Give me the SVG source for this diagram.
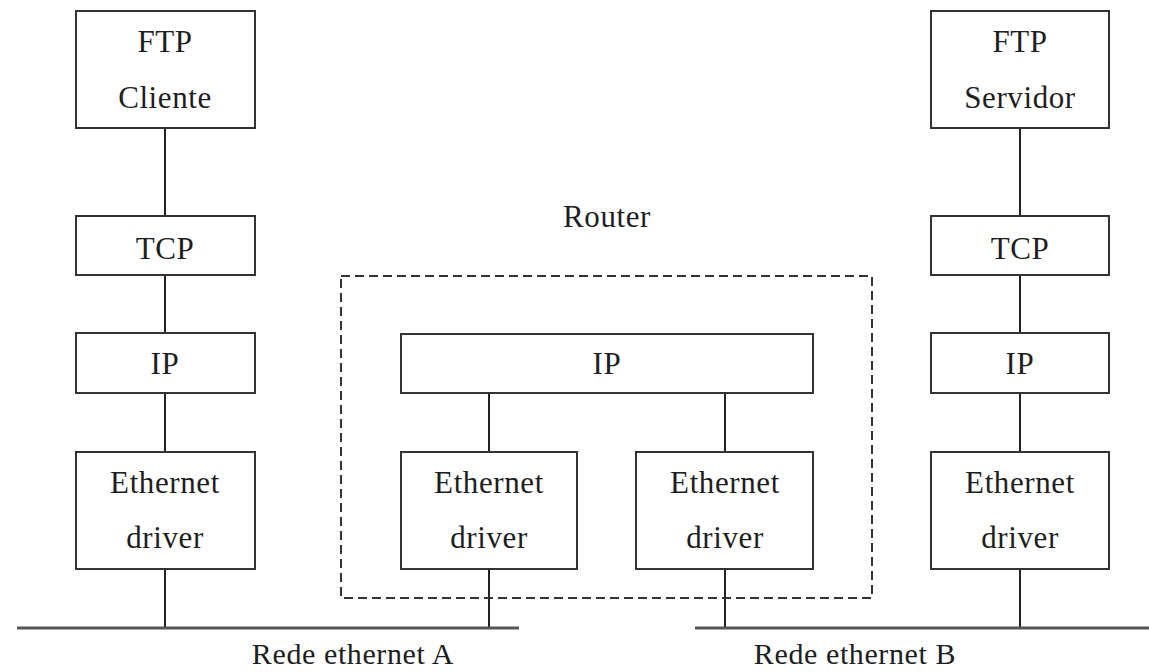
<svg xmlns="http://www.w3.org/2000/svg" width="1149" height="672" viewBox="0 0 1149 672">
<style>
.box{fill:#fff;stroke:#333;stroke-width:2}
.t{font-family:"Liberation Serif","Times New Roman",serif;font-size:31px;letter-spacing:0.6px;fill:#1e1e1e;text-anchor:middle}
.b{font-size:30px}
.c{stroke:#222;stroke-width:2;fill:none}
.net{stroke:#555;stroke-width:3;fill:none}
.dash{fill:none;stroke:#333;stroke-width:2;stroke-dasharray:9 5}
</style>
<rect width="1149" height="672" fill="#fff"/>
<g id="connectors">
<line class="c" x1="165" y1="128" x2="165" y2="216"/>
<line class="c" x1="165" y1="275" x2="165" y2="333"/>
<line class="c" x1="165" y1="393" x2="165" y2="452"/>
<line class="c" x1="165" y1="569" x2="165" y2="628"/>
<line class="c" x1="489" y1="393" x2="489" y2="452"/>
<line class="c" x1="489" y1="569" x2="489" y2="628"/>
<line class="c" x1="725" y1="393" x2="725" y2="452"/>
<line class="c" x1="725" y1="569" x2="725" y2="628"/>
<line class="c" x1="1020" y1="128" x2="1020" y2="216"/>
<line class="c" x1="1020" y1="275" x2="1020" y2="333"/>
<line class="c" x1="1020" y1="393" x2="1020" y2="452"/>
<line class="c" x1="1020" y1="569" x2="1020" y2="628"/>
</g>
<g id="router">
<rect class="dash" x="341" y="276" width="531" height="322"/>
<text class="t" x="607" y="227">Router</text>
</g>
<g id="netA">
<line class="net" x1="17" y1="628" x2="519" y2="628"/>
<text class="t b" x="353" y="664">Rede ethernet A</text>
</g>
<g id="netB">
<line class="net" x1="695" y1="628" x2="1149" y2="628"/>
<text class="t b" x="855" y="664">Rede ethernet B</text>
</g>
<g id="ftpCliente"><rect class="box" x="76" y="11" width="179" height="117"/><text class="t" x="165" y="52">FTP</text><text class="t" x="165" y="108">Cliente</text></g>
<g id="tcpL"><rect class="box" x="76" y="216" width="179" height="59"/><text class="t" x="165" y="259">TCP</text></g>
<g id="ipL"><rect class="box" x="76" y="333" width="179" height="60"/><text class="t" x="165" y="374">IP</text></g>
<g id="ethL"><rect class="box" x="76" y="452" width="179" height="117"/><text class="t" x="165" y="493">Ethernet</text><text class="t" x="165" y="548">driver</text></g>
<g id="ipR1"><rect class="box" x="401" y="334" width="412" height="59"/><text class="t" x="607" y="374">IP</text></g>
<g id="ethR1"><rect class="box" x="401" y="452" width="176" height="117"/><text class="t" x="489" y="493">Ethernet</text><text class="t" x="489" y="548">driver</text></g>
<g id="ethR2"><rect class="box" x="636" y="452" width="177" height="117"/><text class="t" x="725" y="493">Ethernet</text><text class="t" x="725" y="548">driver</text></g>
<g id="ftpServidor"><rect class="box" x="931" y="11" width="178" height="117"/><text class="t" x="1020" y="52">FTP</text><text class="t" x="1020" y="108">Servidor</text></g>
<g id="tcpR"><rect class="box" x="931" y="216" width="178" height="59"/><text class="t" x="1020" y="259">TCP</text></g>
<g id="ipR"><rect class="box" x="931" y="333" width="178" height="60"/><text class="t" x="1020" y="374">IP</text></g>
<g id="ethR"><rect class="box" x="931" y="452" width="178" height="117"/><text class="t" x="1020" y="493">Ethernet</text><text class="t" x="1020" y="548">driver</text></g>
</svg>
